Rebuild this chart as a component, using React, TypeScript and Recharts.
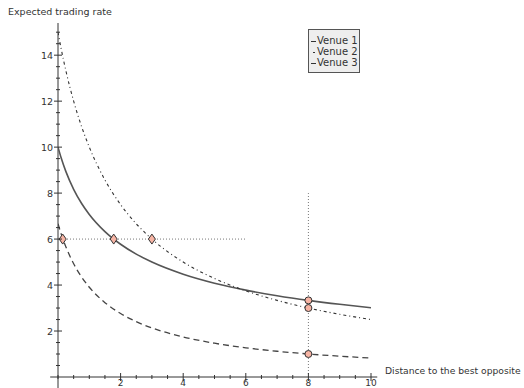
import React from 'react';
import { ComposedChart, Line, Scatter, XAxis, YAxis, ReferenceLine } from 'recharts';

const xs = [0, 0.1, 0.25, 0.5, 0.75, 1, 1.5, 2, 2.5, 3, 4, 5, 6, 7, 8, 9, 10];
const venue1 = [10, 9.535, 8.944, 8.165, 7.559, 7.071, 6.325, 5.774, 5.345, 5.0, 4.472, 4.082, 3.78, 3.536, 3.333, 3.162, 3.015];
const venue2 = [15, 14.286, 13.333, 12, 10.909, 10, 8.571, 7.5, 6.667, 6, 5, 4.286, 3.75, 3.333, 3, 2.727, 2.5];
const venue3 = [6.67, 6.225, 5.667, 4.926, 4.357, 3.905, 3.235, 2.761, 2.408, 2.135, 1.741, 1.469, 1.271, 1.12, 1.001, 0.905, 0.825];

const diamonds = [
  { x: 0.15, y: 6 },
  { x: 1.78, y: 6 },
  { x: 3, y: 6 },
];
const circles = [
  { x: 8, y: 3.333 },
  { x: 8, y: 3 },
  { x: 8, y: 1 },
];

const xTicks = [0, 0.5, 1, 1.5, 2, 2.5, 3, 3.5, 4, 4.5, 5, 5.5, 6, 6.5, 7, 7.5, 8, 8.5, 9, 9.5, 10];
const xLabels = [2, 4, 6, 8, 10];
const yTicks = [0.5, 1, 1.5, 2, 2.5, 3, 3.5, 4, 4.5, 5, 5.5, 6, 6.5, 7, 7.5, 8, 8.5, 9, 9.5, 10, 10.5, 11, 11.5, 12, 12.5, 13, 13.5, 14, 14.5, 15];
const yLabels = [2, 4, 6, 8, 10, 12, 14];
const venues = ['Venue 1', 'Venue 2', 'Venue 3'];

const rows = xs.map((x, i) => ({ x, v1: venue1[i], v2: venue2[i], v3: venue3[i] }));

const font = '"DejaVu Sans", sans-serif';
const ink = '#333';

function XTick(props: any) {
  const { x, y, payload } = props;
  const major = xLabels.includes(payload.value);
  const len = major ? 4 : 2;
  return (
    <g>
      <line x1={x} x2={x} y1={y - len} y2={y + len} stroke={ink} strokeWidth={1} />
      {major && (
        <text x={x} y={y + 9} textAnchor="middle" fontSize={9} fontFamily={font} fill={ink}>
          {payload.value}
        </text>
      )}
    </g>
  );
}

function YTick(props: any) {
  const { x, y, payload } = props;
  const major = yLabels.includes(payload.value);
  const len = major ? 4 : 2;
  return (
    <g>
      <line x1={x - len} x2={x + len} y1={y} y2={y} stroke={ink} strokeWidth={1} />
      {major && (
        <text x={x - 5} y={y + 3.5} textAnchor="end" fontSize={9.5} fontFamily={font} fill={ink}>
          {payload.value}
        </text>
      )}
    </g>
  );
}

function Diamond(props: any) {
  const { cx, cy } = props;
  return <path d={`M${cx},${cy - 5} L${cx + 3.5},${cy} L${cx},${cy + 5} L${cx - 3.5},${cy} Z`} fill="#f7b4a4" stroke={ink} strokeWidth={1} />;
}

function Dot(props: any) {
  const { cx, cy } = props;
  return <circle cx={cx} cy={cy} r={3.5} fill="#f7b4a4" stroke={ink} strokeWidth={1} />;
}

export default function App() {
  return (
    <div style={{ position: 'absolute', left: 0, top: 0, width: 524, height: 388, background: '#fff' }}>
      <ComposedChart width={524} height={388} data={rows} margin={{ top: 23, right: 153, bottom: 10, left: 57 }}>
        <XAxis
          type="number"
          dataKey="x"
          domain={[0, 10]}
          ticks={xTicks}
          interval={0}
          height={1}
          tickSize={0}
          tickMargin={0}
          axisLine={false}
          tickLine={false}
          tick={<XTick />}
          allowDataOverflow
          label={{
            content: () => (
              <text x={385} y={374} fontSize={9.2} fontFamily={font} fill={ink}>
                Distance to the best opposite
              </text>
            ),
          }}
        />
        <YAxis
          type="number"
          domain={[0, 15.4]}
          ticks={yTicks}
          interval={0}
          width={1}
          tickSize={0}
          tickMargin={0}
          axisLine={false}
          tickLine={false}
          tick={<YTick />}
          allowDataOverflow
          label={{
            content: () => (
              <text x={8} y={15} fontSize={9.5} fontFamily={font} fill={ink}>
                Expected trading rate
              </text>
            ),
          }}
        />
        <ReferenceLine segment={[{ x: -0.25, y: 0 }, { x: 10.2, y: 0 }]} stroke={ink} strokeWidth={1} ifOverflow="visible" />
        <ReferenceLine segment={[{ x: 0, y: -0.5 }, { x: 0, y: 15.4 }]} stroke={ink} strokeWidth={1} ifOverflow="visible" />
        <ReferenceLine segment={[{ x: 0, y: 6 }, { x: 6, y: 6 }]} stroke="#777" strokeWidth={1} strokeDasharray="1 2" />
        <ReferenceLine segment={[{ x: 8, y: 0 }, { x: 8, y: 8 }]} stroke="#777" strokeWidth={1} strokeDasharray="1 2" />
        <Line type="monotone" dataKey="v1" stroke="#555" strokeWidth={1.6} dot={false} isAnimationActive={false} />
        <Line type="monotone" dataKey="v2" stroke="#333" strokeWidth={1.1} strokeDasharray="3 3 1 3" dot={false} isAnimationActive={false} />
        <Line type="monotone" dataKey="v3" stroke="#444" strokeWidth={1.3} strokeDasharray="6 4" dot={false} isAnimationActive={false} />
        <Scatter data={diamonds} dataKey="y" shape={<Diamond />} isAnimationActive={false} />
        <Scatter data={circles} dataKey="y" shape={<Dot />} isAnimationActive={false} />
      </ComposedChart>
      <div
        style={{
          position: 'absolute',
          left: 308,
          top: 29,
          border: '1px solid #555',
          background: '#eee',
          fontFamily: font,
          fontSize: 10,
          lineHeight: '11px',
          color: ink,
          padding: '5px 1px 4px 2px',
        }}
      >
        {venues.map((name, i) => (
          <div key={name} style={{ display: 'flex', alignItems: 'center', whiteSpace: 'nowrap' }}>
            <span style={{ display: 'inline-block', width: 5, marginRight: 1, textAlign: 'center', lineHeight: 0 }}>
              <span style={{ display: 'inline-block', width: i === 1 ? 2 : 5, height: 1.2, background: ink }} />
            </span>
            {name}
          </div>
        ))}
      </div>
    </div>
  );
}
